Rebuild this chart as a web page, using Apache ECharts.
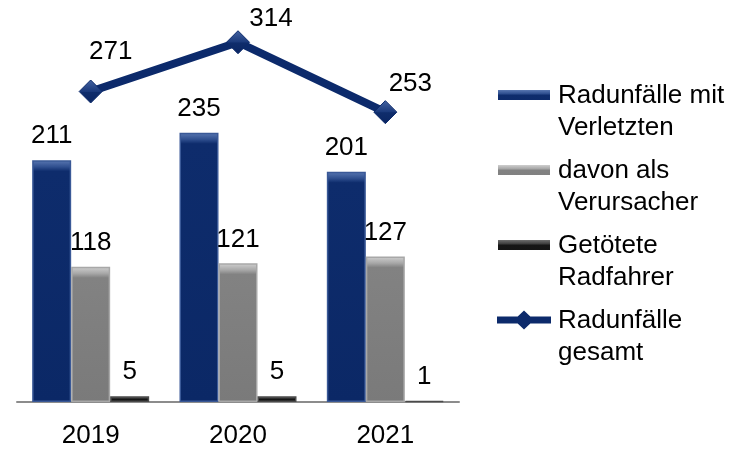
<!DOCTYPE html>
<html>
<head>
<meta charset="utf-8">
<script src="https://cdn.jsdelivr.net/npm/echarts@6/dist/echarts.min.js"></script>
<style>
html,body{margin:0;padding:0;background:#fff;}
#chart{width:741px;height:449px;}
</style>
</head>
<body>
<div id="chart"></div>
<script>
const categories = ['2019', '2020', '2021'];
const seriesNames = ['Radunfälle mit\nVerletzten', 'davon als\nVerursacher', 'Getötete\nRadfahrer', 'Radunfälle\ngesamt'];
const injured = [211, 235, 201];
const causers = [118, 121, 127];
const killed = [5, 5, 1];
const total = [271, 314, 253];

// label offsets (style only) for the line labels
const lineLabelOffsets = [[20, -40], [33, -23], [25, -28]];

const FONT = 'Liberation Sans, Arial, sans-serif';
const FS = 26;
const LH = 32;

// bevel palettes: [topLight, bevelMid, body, bodyBottom, border]
const palettes = [
  ['#5a78b2', '#2f4f8f', '#0e2c6c', '#0b2866', '#3a5997'],
  ['#d0d0d0', '#a8a8a8', '#828282', '#7a7a7a', '#a8a8a8'],
  ['#707070', '#404040', '#161616', '#111111', '#4a4a4a']
];

function bevelGrad(p, s) {
  return new echarts.graphic.LinearGradient(0, 0, 0, 1, [
    {offset: 0, color: p[0]},
    {offset: s * 0.6, color: p[1]},
    {offset: s, color: p[2]},
    {offset: 1, color: p[3]}
  ]);
}

// legend icon paths: box 58 x 54, mark centred at y = 10
const barIcon = 'path://M3,5L55,5L55,15L3,15Z M0,0L0,54 M58,0L58,54';
const lineIcon = 'path://M2,6.5L56,6.5L56,13.5L2,13.5Z M19,10L29,0.5L39,10L29,19.5Z M0,0L0,54 M58,0L58,54';

function legendBarGrad(p) {
  return new echarts.graphic.LinearGradient(0, 0, 0, 1, [
    {offset: 0, color: p[2]},
    {offset: 0.09, color: p[0]},
    {offset: 0.16, color: p[1]},
    {offset: 0.19, color: p[2]},
    {offset: 1, color: p[3]}
  ]);
}

const barLabel = {
  show: true, position: 'top', distance: 11,
  color: '#000', fontFamily: FONT, fontSize: FS
};

const chart = echarts.init(document.getElementById('chart'), null, {renderer: 'canvas'});

function buildBars(pxPerUnit) {
  const all = [injured, causers, killed];
  return all.map((vals, k) => ({
    name: seriesNames[k], type: 'bar',
    data: vals.map(v => {
      const h = Math.max(1, v * pxPerUnit);
      const s = Math.min(0.5, 11 / h);
      return {value: v, itemStyle: {color: bevelGrad(palettes[k], s)}};
    }),
    barWidth: 39, barGap: '0%',
    itemStyle: {color: palettes[k][2], borderColor: palettes[k][4], borderWidth: 1.5},
    label: barLabel
  }));
}

const legendText = {color: '#000', fontFamily: FONT, fontSize: FS, lineHeight: LH};

function buildOption(pxPerUnit) {
  return {
    animation: false,
    backgroundColor: '#fff',
    grid: {left: 17, right: 282, top: 1, bottom: 44, containLabel: false},
    xAxis: {
      type: 'category', data: categories,
      axisLine: {show: true, lineStyle: {color: '#8c8c8c', width: 2}},
      axisTick: {show: false},
      axisLabel: {color: '#000', fontFamily: FONT, fontSize: FS, margin: 21}
    },
    yAxis: {type: 'value', min: 0, max: 350, show: false, splitLine: {show: false}},
    legend: {
      data: [
        {name: seriesNames[0], icon: barIcon, itemStyle: {color: legendBarGrad(palettes[0]), borderWidth: 0}},
        {name: seriesNames[1], icon: barIcon, itemStyle: {color: legendBarGrad(palettes[1]), borderWidth: 0}},
        {name: seriesNames[2], icon: barIcon, itemStyle: {color: legendBarGrad(palettes[2]), borderWidth: 0}},
        {name: seriesNames[3], icon: lineIcon, itemStyle: {color: '#0c2a6b', borderWidth: 0}}
      ],
      orient: 'vertical', left: 495, top: 80, padding: 0,
      itemWidth: 58, itemHeight: 54, itemGap: 11,
      symbolKeepAspect: false,
      itemStyle: {borderWidth: 0},
      textStyle: legendText
    },
    series: buildBars(pxPerUnit).concat([{
      name: seriesNames[3], type: 'line',
      data: total.map((v, i) => ({value: v, label: {offset: lineLabelOffsets[i]}})),
      symbol: 'diamond', symbolSize: 23,
      lineStyle: {color: '#0c2a6b', width: 8},
      itemStyle: {
        color: new echarts.graphic.LinearGradient(0, 0, 0, 1, [
          {offset: 0, color: '#4564a2'},
          {offset: 0.5, color: '#1a397b'},
          {offset: 0.52, color: '#0f2d6c'},
          {offset: 1, color: '#0a2562'}
        ]),
        borderColor: '#0c2a6b', borderWidth: 1
      },
      label: {show: true, position: 'inside', color: '#000', fontFamily: FONT, fontSize: FS},
      z: 5
    }])
  };
}

chart.setOption(buildOption(1));
const p0 = chart.convertToPixel({yAxisIndex: 0}, 0);
const p1 = chart.convertToPixel({yAxisIndex: 0}, 100);
chart.setOption(buildOption(Math.abs(p0 - p1) / 100), true);
</script>
</body>
</html>
